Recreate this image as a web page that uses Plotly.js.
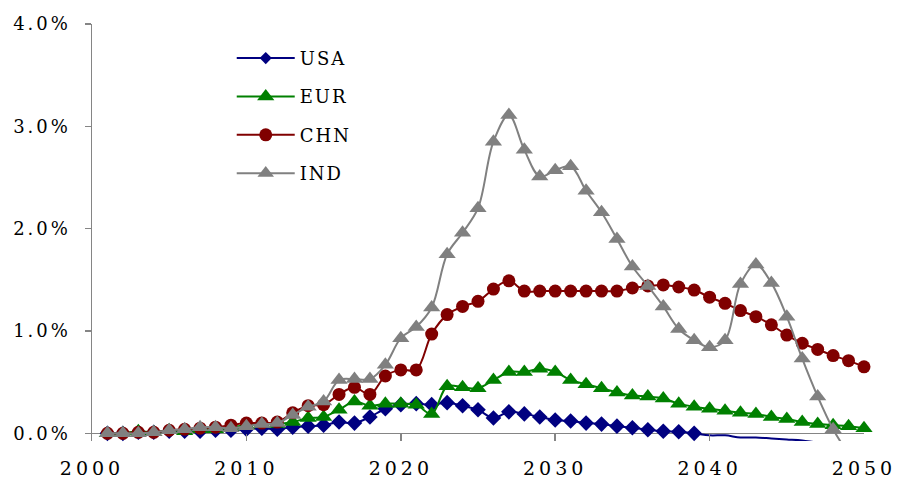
<!DOCTYPE html>
<html>
<head>
<meta charset="utf-8">
<script src="https://cdn.plot.ly/plotly-3.0.1.min.js"></script>
<style>
  html, body { margin: 0; padding: 0; background: #ffffff; }
  #chart { width: 898px; height: 479px; }
  .ytick text { letter-spacing: 3px; }
  .xtick text { letter-spacing: 4px; }
  .legendtext { letter-spacing: 2px; }
</style>
</head>
<body>
<div id="chart"></div>
<script>
const years = [];
for (let y = 2001; y <= 2050; y++) years.push(y);

const seriesNames = ["USA", "EUR", "CHN", "IND"];

const usa = [0.00, 0.00, 0.01, 0.01, 0.02, 0.02, 0.02, 0.03, 0.03, 0.04,
             0.05, 0.04, 0.06, 0.07, 0.08, 0.11, 0.10, 0.16, 0.24, 0.28,
             0.29, 0.28, 0.30, 0.27, 0.23, 0.15, 0.21, 0.19, 0.16, 0.13,
             0.12, 0.10, 0.09, 0.07, 0.055, 0.035, 0.02, 0.015, 0.00, -0.02,
             -0.02, -0.04, -0.04, -0.05, -0.06, -0.07, -0.09, -0.10, -0.11, -0.12];

const eur = [0.00, 0.00, 0.02, 0.01, 0.03, 0.02, 0.04, 0.04, 0.06, 0.08,
             0.09, 0.09, 0.11, 0.15, 0.16, 0.23, 0.31, 0.27, 0.29, 0.29,
             0.28, 0.19, 0.46, 0.45, 0.44, 0.52, 0.60, 0.60, 0.63, 0.60,
             0.52, 0.48, 0.44, 0.40, 0.37, 0.36, 0.34, 0.29, 0.26, 0.24,
             0.22, 0.20, 0.19, 0.16, 0.14, 0.11, 0.09, 0.08, 0.07, 0.05];

const chn = [0.00, 0.00, 0.01, 0.01, 0.03, 0.04, 0.05, 0.06, 0.08, 0.10,
             0.10, 0.11, 0.20, 0.27, 0.28, 0.38, 0.45, 0.38, 0.56, 0.62,
             0.62, 0.97, 1.16, 1.24, 1.29, 1.41, 1.49, 1.39, 1.39, 1.39,
             1.39, 1.39, 1.39, 1.39, 1.42, 1.44, 1.45, 1.43, 1.40, 1.33,
             1.27, 1.20, 1.14, 1.06, 0.96, 0.88, 0.82, 0.76, 0.71, 0.65];

const ind = [0.00, 0.00, 0.00, 0.01, 0.03, 0.04, 0.06, 0.06, 0.05, 0.07,
             0.09, 0.10, 0.18, 0.26, 0.31, 0.52, 0.53, 0.53, 0.67, 0.93,
             1.04, 1.23, 1.75, 1.96, 2.20, 2.85, 3.11, 2.77, 2.51, 2.57,
             2.61, 2.37, 2.16, 1.90, 1.63, 1.44, 1.24, 1.02, 0.91, 0.84,
             0.91, 1.46, 1.65, 1.47, 1.14, 0.73, 0.36, 0.04, -0.20, -0.40];

const yTickVals = [0, 1, 2, 3, 4];
const yTickText = ["0.0%", "1.0%", "2.0%", "3.0%", "4.0%"];
const xTickVals = [2000, 2010, 2020, 2030, 2040, 2050];
const xTickText = ["2000", "2010", "2020", "2030", "2040", "2050"];

function sizes(vals, s) { return vals.map(v => (v < 0 ? 0 : s)); }

function mk(name, vals, color, symbol, size) {
  return {
    type: "scatter", mode: "lines+markers", name: name, legendgroup: name,
    x: years, y: vals, cliponaxis: false,
    line: { color: color, width: 2, shape: "spline", smoothing: 1 },
    marker: { color: color, symbol: symbol, size: sizes(vals, size), opacity: 1,
              line: { width: 0, color: color } }
  };
}

const data = [
  mk(seriesNames[0], usa, "#000080", "diamond", 12),
  mk(seriesNames[1], eur, "#008000", "triangle-up", 15),
  mk(seriesNames[2], chn, "#800000", "circle", 13),
  mk(seriesNames[3], ind, "#808080", "triangle-up", 15)
];

const layout = {
  width: 898, height: 479,
  margin: { l: 92, r: 34, t: 24, b: 38.3 },
  paper_bgcolor: "#ffffff", plot_bgcolor: "#ffffff",
  font: { family: "DejaVu Serif", color: "#000000" },
  showlegend: true,
  legend: {
    x: 0.181, y: 0.962, xanchor: "left", yanchor: "top",
    bgcolor: "rgba(0,0,0,0)", borderwidth: 0,
    font: { family: "DejaVu Serif", size: 18, color: "#000000" },
    itemwidth: 58, traceorder: "grouped", tracegroupgap: 12
  },
  xaxis: {
    range: [2000, 2050], tickvals: xTickVals, ticktext: xTickText,
    showgrid: false, zeroline: false, showline: false,
    ticks: "inside", ticklen: 7, tickwidth: 1.5, tickcolor: "#858585",
    tickfont: { family: "DejaVu Serif", size: 19, color: "#000000" },
    ticklabelstandoff: 14
  },
  yaxis: {
    range: [-0.075, 4.0], tickvals: yTickVals, ticktext: yTickText,
    showgrid: false, zeroline: true, zerolinecolor: "#858585", zerolinewidth: 1.5,
    showline: true, linecolor: "#858585", linewidth: 1.5,
    ticks: "outside", ticklen: 6, tickwidth: 1.5, tickcolor: "#858585",
    tickfont: { family: "DejaVu Serif", size: 18, color: "#000000" },
    ticklabelstandoff: 10
  }
};

Plotly.newPlot("chart", data, layout, { staticPlot: true, displayModeBar: false });
</script>
</body>
</html>
